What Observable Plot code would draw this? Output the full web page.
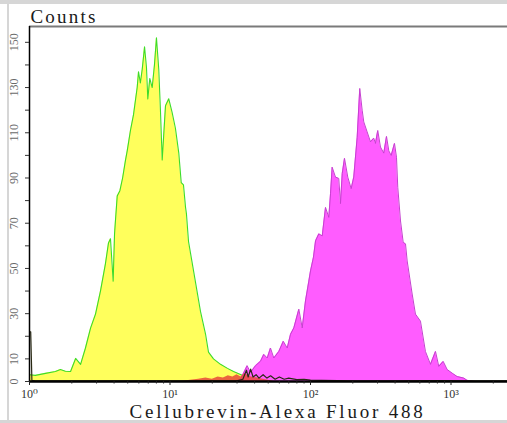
<!DOCTYPE html>
<html>
<head>
<meta charset="utf-8">
<script src="https://cdn.jsdelivr.net/npm/d3@7"></script>
<script src="https://cdn.jsdelivr.net/npm/@observablehq/plot@0.6"></script>
<style>
  html, body { margin: 0; padding: 0; background: #fff; }
  #wrap { position: relative; width: 507px; height: 423px; overflow: hidden; background: #fff; }
  #wrap svg { position: absolute; left: 0; top: 0; }
  .strip { position: absolute; background: #d6d6d6; }
</style>
</head>
<body>
<div id="wrap">
  <div class="strip" style="left:0;top:0;width:507px;height:4px;"></div>
  <div class="strip" style="left:7px;top:0;width:2px;height:423px;"></div>
  <div class="strip" style="left:0;top:420px;width:507px;height:3px;"></div>
</div>
<script>
// ---- data (intensity, counts) ----
const greenX = [1.0,1.1,1.3,1.53,1.66,1.8,1.96,2.13,2.31,2.5,2.72,2.95,3.2,3.47,3.65,3.77,3.94,4.03,4.09,4.21,4.4,4.6,4.82,4.96,5.23,5.5,5.84,5.97,6.15,6.34,6.59,6.8,6.95,7.18,7.47,7.75,8.01,8.32,8.55,8.8,9.29,9.8,10.35,10.93,11.55,12.02,12.47,12.9,13.1,13.54,14.7,16.48,17.9,18.79,20.4,22.88,25.66,28.31,31.75,37.4,45,50];
const greenY = [3,2.7,3.6,4.4,5.3,4.5,4.4,10.2,7.6,14.7,23.6,29.8,40,52,61.3,63.1,44.4,65.3,71.1,82,84.4,90,97.8,102,111,118,130,137,132,138,148,139,125,134,130,140,152,138,120,98,122,125,119,112,101,88,87,77,74,62,49,31,21,13,10,7.6,5.8,4.4,3.1,1,0.5,0];

const magentaX = [28.3,31.8,35.4,37.4,40.6,44.1,46.5,49.2,51.9,54.8,59.5,64.0,68.3,72.1,76.1,82.6,87.3,92.1,97.3,100,105,108.6,114.6,121.2,127.9,135.0,138.8,142.6,150.6,158.9,163.5,168.2,174.6,184.2,194.8,203.2,214.9,224.2,233.2,239.4,253.0,267.2,282.0,289.9,301.1,314.8,332.3,347.5,360.9,375.2,396.1,409.3,418.0,437.2,457.0,474.3,487.7,529.2,558.5,606.2,657.7,714.3,775.6,818.7,879.6,939.0,1019,1106,1233,1303,1480];
const magentaY = [0,1,7,4,7,9,12,10.4,14.8,10.4,13.3,17.8,14.8,20.9,23.7,32,23.7,35.6,44.4,48.9,55,62.2,65.3,64.4,77,72.6,83,94.8,90.4,89.8,78.7,92,98.7,90.4,85.3,90.4,108,129.6,120,114.8,110.4,106,107.6,105.3,111,103.7,101,108.4,102,100,105.3,99.2,85.9,71,61.5,60.9,53.3,38.7,29.8,26.7,13.3,7.6,13.3,6.7,8.9,5.3,3.7,2.2,1.5,0.5,0];

const redX = [12,14,16,18,20,22,24,26,28,30,32,34,36,38,42,46,50,55];
const redY = [0,0.5,1,1.5,1,2,1.5,2.5,2,3,2,3.5,2.5,2,1.5,1,0.5,0];

const blackX = [1.0,1.02,1.04,1.1,5,10,20,30,33,35,36,37.5,39,41,43,46,49,52,56,60,65,70,80,90,100,120,200,400,800,1500,2500];
const blackY = [22,22,0.5,0.3,0.3,0.3,0.3,0.3,1,5,2,5.5,2,3,1.5,3,1.5,2.5,1,2,1,1.5,0.8,1,0.6,0.5,0.3,0.3,0.4,0.3,0.3];

const yLabels = [0,10,30,50,70,90,110,130,150];
const yTicks = [0,10,20,30,40,50,60,70,80,90,100,110,120,130,140,150];
const xMajor = [1,10,100,1000];
const xMajorLabels = ["10\u2070","10\u00b9","10\u00b2","10\u00b3"];
const xMinor = [2,3,4,5,6,7,8,9,20,30,40,50,60,70,80,90,200,300,400,500,600,700,800,900,2000];
const yTitle = "Counts";
const xTitle = "Cellubrevin-Alexa Fluor 488";

const zip = (xs, ys) => xs.map((x, i) => ({x, y: ys[i]}));
const green = zip(greenX, greenY);
const magenta = zip(magentaX, magentaY);
const red = zip(redX, redY);
const black = zip(blackX, blackY);
const xLab = xMajor.map((v, i) => ({v, t: xMajorLabels[i]}));

const serif = "Liberation Serif, DejaVu Serif, serif";

const chart = Plot.plot({
  width: 507,
  height: 423,
  marginLeft: 29,
  marginRight: 0,
  marginTop: 26,
  marginBottom: 42,
  style: {background: "transparent", fontFamily: serif},
  x: {type: "log", domain: [1, Math.pow(10, 478 / 140.5)], axis: null},
  y: {domain: [0, 157], axis: null},
  marks: [
    Plot.areaY(green, {x: "x", y: "y", fill: "#ffff5c", curve: "linear"}),
    Plot.lineY(green, {x: "x", y: "y", stroke: "#3ddc2a", strokeWidth: 1.1, curve: "linear"}),
    Plot.areaY(magenta, {x: "x", y: "y", fill: "#ff5cff", curve: "linear"}),
    Plot.lineY(magenta, {x: "x", y: "y", stroke: "#c540cf", strokeWidth: 1, curve: "linear"}),
    Plot.areaY(red, {x: "x", y: "y", fill: "#e84a3a", fillOpacity: 0.85, curve: "linear"}),
    Plot.lineY(black, {x: "x", y: "y", stroke: "#2a2a14", strokeWidth: 1.2, curve: "linear"}),
    // frame lines
    Plot.ruleY([157], {stroke: "#7a7a7a", strokeWidth: 2}),
    Plot.ruleY([0], {stroke: "#000", strokeWidth: 2.5}),
    Plot.ruleX([1], {stroke: "#000", strokeWidth: 1.5}),
    // y ticks
    Plot.axisY({ticks: yTicks, tickSize: 4, tickFormat: () => "", stroke: "#333", anchor: "left", label: null}),
    Plot.text(yLabels, {y: d => d, text: d => String(d), frameAnchor: "left", dx: -15, rotate: -90,
      fill: "#6a6a6a", fontSize: 12, textAnchor: "middle", lineAnchor: "middle"}),
    // x ticks
    Plot.axisX({ticks: xMajor, tickSize: 4, tickFormat: () => "", stroke: "#222", anchor: "bottom", label: null}),
    Plot.axisX({ticks: xMinor, tickSize: 2.5, tickFormat: () => "", stroke: "#222", anchor: "bottom", label: null}),
    Plot.text(xLab, {x: "v", text: "t", frameAnchor: "bottom", dy: 13, fill: "#333", fontSize: 12,
      textAnchor: "middle", lineAnchor: "middle"}),
    // titles
    Plot.text([xTitle], {frameAnchor: "bottom", dx: 9, dy: 30, fill: "#1a1a1a", fontSize: 19,
      textAnchor: "middle", lineAnchor: "middle"}),
    Plot.text([yTitle], {frameAnchor: "top-left", dx: 1, dy: -10, fill: "#1a1a1a", fontSize: 19,
      textAnchor: "start", lineAnchor: "middle"})
  ]
});

d3.select(chart).selectAll("text").each(function() {
  const t = this.textContent;
  if (t === xTitle) this.setAttribute("letter-spacing", "2.8");
  if (t === yTitle) this.setAttribute("letter-spacing", "2.2");
});

document.getElementById("wrap").appendChild(chart);
</script>
</body>
</html>
